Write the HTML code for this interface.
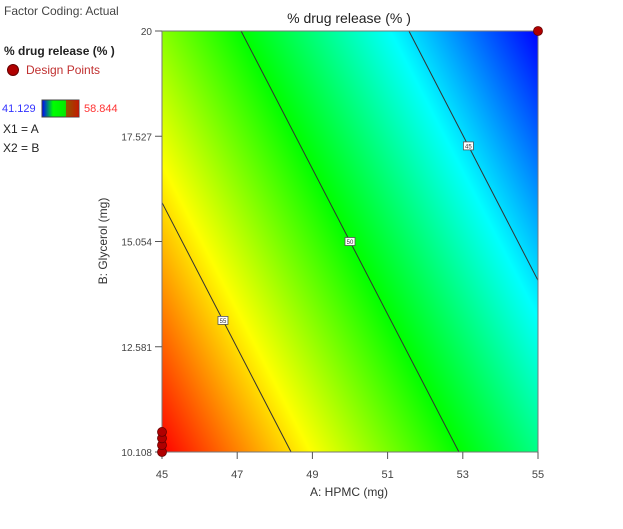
<!DOCTYPE html>
<html><head><meta charset="utf-8"><style>
body{margin:0;background:#fff;font-family:"Liberation Sans",sans-serif;}
svg text{font-family:"Liberation Sans",sans-serif;}
</style></head><body>
<svg id="c" width="623" height="524" xmlns="http://www.w3.org/2000/svg">
<text x="4" y="15" font-size="12" fill="#444">Factor Coding: Actual</text>
<text x="4" y="55" font-size="12" font-weight="bold" fill="#222">% drug release (% )</text>
<circle cx="13" cy="70" r="5.5" fill="#b00000" stroke="#600"/>
<text x="26" y="74" font-size="12" fill="#c03030">Design Points</text>
<defs><linearGradient id="lg" x1="0" x2="1" y1="0" y2="0">
<stop offset="0" stop-color="#0000ff"/><stop offset="0.3" stop-color="#00ff00"/><stop offset="0.6" stop-color="#00ee00"/><stop offset="1" stop-color="#a04000"/></linearGradient></defs>
<text x="2" y="112" font-size="11" fill="#3333ff">41.129</text>
<rect x="42" y="100" width="37" height="17" fill="url(#lg)" stroke="#444"/>
<rect x="66" y="100" width="13" height="17" fill="#e00000" opacity="0.6"/>
<text x="84" y="112" font-size="11" fill="#ff3333">58.844</text>
<text x="3" y="133" font-size="12" fill="#222">X1 = A</text>
<text x="3" y="152" font-size="12" fill="#222">X2 = B</text>
<text x="349" y="23" font-size="14" text-anchor="middle" fill="#222">% drug release (% )</text>
<text x="349" y="496" font-size="12" text-anchor="middle" fill="#333">A: HPMC (mg)</text>
<text transform="translate(107,241) rotate(-90)" font-size="12" text-anchor="middle" fill="#333">B: Glycerol (mg)</text>
<g id="g"></g>
</svg>
<script>
const xTicks=[45,47,49,51,53,55];
const yTicks=[10.108,12.581,15.054,17.527,20];
const coefIntercept=[50];
const coefA=[-1.12];
const coefB=[-0.656];
const centerAB=[50,15.054];
const levels=[45,50,55];
const labelB=[17.3,15.054,13.2];
const ptA=[45,45,45,45,55];
const ptB=[10.108,10.27,10.43,10.58,20];
const colorVals=[41.129,45.558,49.987,54.415,58.844];
const colorStops=['#0000ff','#00ffff','#00ff00','#ffff00','#ff0000'];

const L=162,R=538,T=31,B=452,NS='http://www.w3.org/2000/svg';
const xmin=45,xmax=55,ymin=10.108,ymax=20;
const sx=a=>L+(a-xmin)/(xmax-xmin)*(R-L);
const sy=b=>B-(b-ymin)/(ymax-ymin)*(B-T);
const f=(a,b)=>coefIntercept[0]+coefA[0]*(a-centerAB[0])+coefB[0]*(b-centerAB[1]);
const g=document.getElementById('g');
function mk(t,at){const e=document.createElementNS(NS,t);for(const k in at)e.setAttribute(k,at[k]);g.appendChild(e);return e;}
const gx=coefA[0]*(xmax-xmin)/(R-L), gy=-coefB[0]*(ymax-ymin)/(B-T);
const g2=gx*gx+gy*gy, x0=sx(xmin), y0=sy(ymin), f0=f(xmin,ymin);
const vMin=colorVals[0], vMax=colorVals[colorVals.length-1];
const p=v=>[x0+gx*(v-f0)/g2, y0+gy*(v-f0)/g2];
const defs=document.querySelector('defs');
const lg=document.createElementNS(NS,'linearGradient');
lg.setAttribute('id','sg');lg.setAttribute('gradientUnits','userSpaceOnUse');
const pa=p(vMax),pb=p(vMin);
lg.setAttribute('x1',pa[0]);lg.setAttribute('y1',pa[1]);lg.setAttribute('x2',pb[0]);lg.setAttribute('y2',pb[1]);
for(let i=colorVals.length-1;i>=0;i--){const s=document.createElementNS(NS,'stop');
s.setAttribute('offset',(vMax-colorVals[i])/(vMax-vMin));s.setAttribute('stop-color',colorStops[i]);lg.appendChild(s);}
defs.appendChild(lg);
const surf=mk('rect',{x:L,y:T,width:R-L,height:B-T,fill:'url(#sg)'});


levels.forEach((lv,i)=>{
  const pts=[];
  const bAt=a=>centerAB[1]+(lv-coefIntercept[0]-coefA[0]*(a-centerAB[0]))/coefB[0];
  const aAt=b=>centerAB[0]+(lv-coefIntercept[0]-coefB[0]*(b-centerAB[1]))/coefA[0];
  [[xmin,bAt(xmin)],[xmax,bAt(xmax)],[aAt(ymin),ymin],[aAt(ymax),ymax]].forEach(q=>{
    if(q[0]>=xmin-1e-9&&q[0]<=xmax+1e-9&&q[1]>=ymin-1e-9&&q[1]<=ymax+1e-9)pts.push(q);});
  if(pts.length<2)return;
  const ln=mk('line',{x1:sx(pts[0][0]),y1:sy(pts[0][1]),x2:sx(pts[1][0]),y2:sy(pts[1][1]),stroke:'#333',"stroke-width":1});
  
  
  const cx=sx(aAt(labelB[i])),cy=sy(labelB[i]);
  const bx=mk('rect',{x:cx-5,y:cy-4,width:10,height:8,fill:'#fff',stroke:'#555',"stroke-width":0.8});
  
  
  const tx=mk('text',{x:cx,y:cy+2.5,"font-size":6,"text-anchor":"middle",fill:'#333'});
  tx.textContent=lv;
  
  
});
const fr=mk('rect',{x:L,y:T,width:R-L,height:B-T,fill:'none',stroke:'#777',"stroke-width":1});


xTicks.forEach(v=>{
  const t=mk('line',{x1:sx(v),y1:B,x2:sx(v),y2:B+7,stroke:'#555'});
  
  
  const l=mk('text',{x:sx(v),y:B+26,"font-size":11,"text-anchor":"middle",fill:'#444'});
  l.textContent=v;
  
  
});
yTicks.forEach(v=>{
  const t=mk('line',{x1:L-7,y1:sy(v),x2:L,y2:sy(v),stroke:'#555'});
  
  
  const l=mk('text',{x:L-10,y:sy(v)+4,"font-size":10,"text-anchor":"end",fill:'#444'});
  l.textContent=v;
  
  
});
ptA.forEach((a,i)=>{
  const c=mk('circle',{cx:sx(a),cy:sy(ptB[i]),r:4.5,fill:'#b00000',stroke:'#600',"stroke-width":0.8});
  
  
});
</script>
</body></html>
